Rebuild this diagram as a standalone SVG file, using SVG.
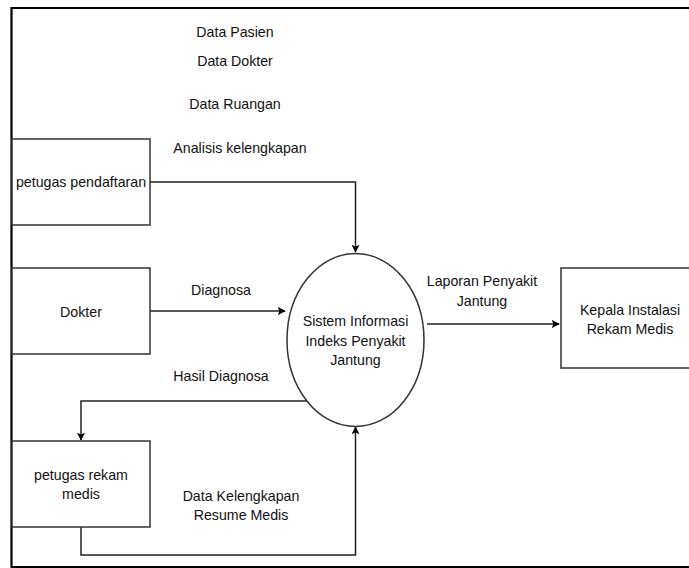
<svg xmlns="http://www.w3.org/2000/svg" width="689" height="568" viewBox="0 0 689 568">
<defs>
<style>
text{font-family:"Liberation Sans",Arial,sans-serif;font-size:14.2px;fill:#111;text-anchor:middle;dominant-baseline:central}
.box{fill:#fff;stroke:#333;stroke-width:1.5}
.conn{fill:none;stroke:#222;stroke-width:1.5}
.frame{fill:none;stroke:#000;stroke-width:2.2}
</style>
<marker id="arr" viewBox="0 0 10 10" refX="9" refY="5" markerWidth="8" markerHeight="8" markerUnits="userSpaceOnUse" orient="auto">
<path d="M0,0 L10,5 L0,10 L2,5 Z" fill="#000"/>
</marker>
</defs>
<rect width="689" height="568" fill="#fff"/>
<path class="frame" d="M689,8 H11.5 V567 H689"/>
<g id="labels-top">
<text x="235" y="32">Data Pasien</text>
<text x="235" y="61">Data Dokter</text>
<text x="235" y="104">Data Ruangan</text>
<text x="240" y="148">Analisis kelengkapan</text>
</g>
<g id="connectors">
<path class="conn" d="M150,182 H355.5 V252" marker-end="url(#arr)"/>
<path class="conn" d="M150,311 H285" marker-end="url(#arr)"/>
<path class="conn" d="M308,401 H81 V440" marker-end="url(#arr)"/>
<path class="conn" d="M81,527 V555 H355.5 V427" marker-end="url(#arr)"/>
<path class="conn" d="M427,324 H559" marker-end="url(#arr)"/>
<text x="221" y="290">Diagnosa</text>
<text x="221" y="376">Hasil Diagnosa</text>
<text x="241" y="496">Data Kelengkapan</text>
<text x="241" y="515">Resume Medis</text>
<text x="482" y="281">Laporan Penyakit</text>
<text x="482" y="301">Jantung</text>
</g>
<g id="petugas-pendaftaran">
<rect class="box" x="12" y="139" width="138" height="86"/>
<text x="81" y="182">petugas pendaftaran</text>
</g>
<g id="dokter">
<rect class="box" x="12" y="268" width="138" height="86"/>
<text x="81" y="312">Dokter</text>
</g>
<g id="petugas-rekam-medis">
<rect class="box" x="12" y="441" width="138" height="86"/>
<text x="81" y="475">petugas rekam</text>
<text x="81" y="494">medis</text>
</g>
<g id="sistem">
<ellipse class="box" cx="355.5" cy="340" rx="68.5" ry="86.5"/>
<text x="355.5" y="321">Sistem Informasi</text>
<text x="355.5" y="341">Indeks Penyakit</text>
<text x="355.5" y="360">Jantung</text>
</g>
<g id="kepala">
<rect class="box" x="561" y="268" width="140" height="100"/>
<text x="630" y="310">Kepala Instalasi</text>
<text x="630" y="329">Rekam Medis</text>
</g>
</svg>
